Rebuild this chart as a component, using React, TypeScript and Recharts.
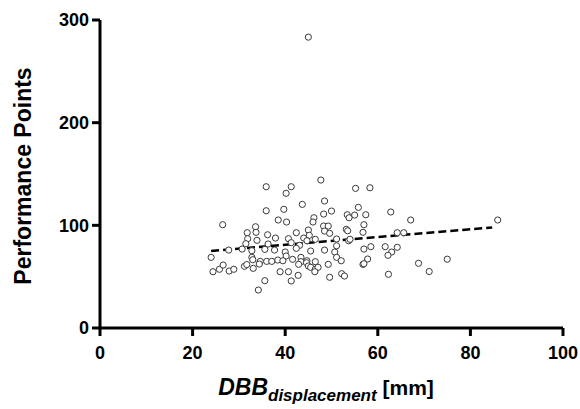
import React from 'react';
import { ScatterChart, Scatter, XAxis, YAxis, ReferenceLine } from 'recharts';

// DBB displacement (mm) per athlete
const displacement = [
  35.9, 41.3, 47.7, 40.2, 48.5, 43.7, 35.9, 39.7, 48.3, 50.0,
  38.5, 40.3, 46.2, 46.0, 26.5, 33.6, 48.3, 49.3, 31.8, 33.7,
  36.2, 42.4, 45.0, 48.5, 49.6, 31.9, 33.9, 37.9, 40.7, 44.0,
  45.2, 46.5, 51.1, 36.3, 31.5, 41.3, 43.1, 44.7, 27.8, 30.7,
  32.8, 35.6, 37.7, 40.0, 42.4, 45.5, 48.5, 50.7, 24.0, 32.8,
  40.2, 51.1, 43.4, 33.0, 34.6, 36.0, 37.1, 38.4, 39.5, 41.6,
  43.4, 44.7, 46.5, 24.4, 25.8, 26.6, 27.9, 28.9, 31.2, 31.7,
  33.1, 34.4, 38.9, 40.7, 42.9, 44.6, 45.0, 45.5, 46.5, 47.1,
  46.4, 49.3, 35.6, 42.8, 41.3, 49.6, 34.2, 55.2, 58.3, 55.8,
  53.4, 53.8, 55.0, 57.4, 62.8, 67.1, 57.0, 53.2, 53.5, 56.8,
  64.2, 65.6, 53.7, 54.0, 51.1, 57.0, 58.5, 61.6, 64.2, 63.0,
  62.2, 52.1, 57.8, 56.8, 57.0, 75.0, 68.8, 71.1, 52.2, 52.8,
  62.3, 85.9, 45.0,
];

// performance points, same order
const points = [
  137.6, 137.6, 144.1, 131.2, 123.7, 120.4, 114.2, 115.6, 111.0, 113.9,
  105.2, 103.2, 107.4, 103.2, 100.6, 98.6, 99.3, 99.3, 92.8, 93.2,
  90.8, 92.8, 95.4, 94.4, 92.2, 87.0, 85.4, 87.6, 87.0, 87.6,
  90.3, 86.4, 86.7, 81.8, 82.1, 83.1, 80.5, 85.0, 75.9, 76.9,
  75.3, 76.6, 75.9, 74.0, 77.6, 75.0, 75.9, 74.0, 68.8, 68.8,
  70.1, 68.8, 68.8, 66.5, 64.9, 64.9, 64.9, 66.2, 65.5, 66.9,
  64.6, 65.5, 64.6, 54.8, 57.2, 61.3, 55.5, 57.2, 60.1, 61.8,
  58.1, 62.3, 54.8, 54.8, 62.0, 63.6, 60.4, 59.1, 57.2, 59.1,
  54.8, 62.0, 46.1, 51.3, 45.8, 49.4, 37.0, 136.0, 136.6, 117.5,
  110.3, 107.4, 110.0, 110.3, 113.0, 105.2, 100.6, 96.1, 94.7, 93.2,
  92.8, 92.8, 85.0, 86.4, 80.1, 76.9, 79.2, 79.2, 78.6, 74.0,
  70.8, 65.5, 67.2, 62.0, 62.6, 67.0, 63.0, 55.0, 52.9, 50.6,
  52.3, 105.2, 283.3,
];

// linear fit end points
const fitX = [24.0, 84.7];
const fitY = [75.0, 98.0];

const xTicks = [0, 20, 40, 60, 80, 100];
const yTicks = [0, 100, 200, 300];

const data = displacement.map((x, i) => ({ x, y: points[i] }));

const FONT = '"Liberation Sans", Arial, sans-serif';

const OpenDot = (props: any) => {
  const { cx, cy } = props;
  if (cx == null || cy == null) return <g />;
  return <circle cx={cx} cy={cy} r={3.1} fill="#fff" stroke="#3a3a3a" strokeWidth={1} />;
};

const XLabel = () => (
  <text x={326} y={395} textAnchor="middle" fontFamily={FONT} fontWeight="bold" fill="#000">
    <tspan fontSize={23} fontStyle="italic">DBB</tspan>
    <tspan fontSize={17} fontStyle="italic" dy={6}>displacement</tspan>
    <tspan fontSize={21} dy={-6}> [mm]</tspan>
  </text>
);

const YLabel = () => (
  <text
    x={31}
    y={176}
    transform="rotate(-90 31 176)"
    textAnchor="middle"
    fontFamily={FONT}
    fontWeight="bold"
    fontSize={23}
    fill="#000"
  >
    Performance Points
  </text>
);

const tickStyle = { fill: '#000', fontSize: 18, fontWeight: 'bold' as const, fontFamily: FONT };

export default function App() {
  return (
    <div style={{ position: 'absolute', left: 0, top: 0, width: 580, height: 409, background: '#fff' }}>
      <ScatterChart width={580} height={409} margin={{ top: 20, right: 17, bottom: 0, left: 0 }}>
        <XAxis
          type="number"
          dataKey="x"
          domain={[0, 100]}
          ticks={xTicks}
          height={81}
          tick={tickStyle}
          tickSize={8}
          tickMargin={10}
          axisLine={{ stroke: '#000', strokeWidth: 3 }}
          tickLine={{ stroke: '#000', strokeWidth: 3 }}
          label={<XLabel />}
        />
        <YAxis
          type="number"
          dataKey="y"
          domain={[0, 300]}
          ticks={yTicks}
          width={100}
          tick={tickStyle}
          tickSize={8}
          tickMargin={3}
          axisLine={{ stroke: '#000', strokeWidth: 3 }}
          tickLine={{ stroke: '#000', strokeWidth: 3 }}
          label={<YLabel />}
        />
        <ReferenceLine
          segment={[
            { x: fitX[0], y: fitY[0] },
            { x: fitX[1], y: fitY[1] },
          ]}
          stroke="#000"
          strokeWidth={2.5}
          strokeDasharray="8 4"
        />
        <Scatter data={data} shape={OpenDot} isAnimationActive={false} />
      </ScatterChart>
    </div>
  );
}
